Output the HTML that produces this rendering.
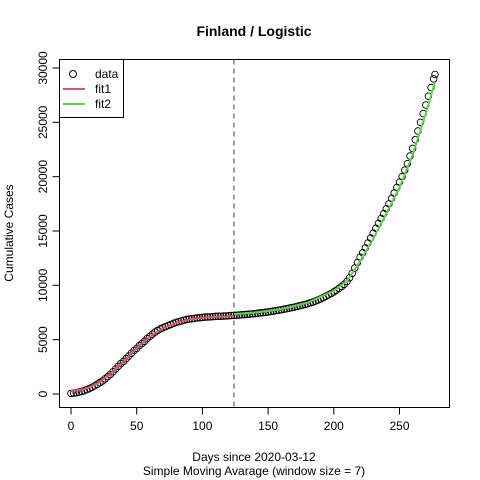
<!DOCTYPE html>
<html><head><meta charset="utf-8"><style>
body{margin:0;background:#fff}
svg{display:block;font-family:"Liberation Sans",Arial,sans-serif}
</style></head><body>
<svg id="chart" width="480" height="480">
<text x="254" y="36" text-anchor="middle" font-size="14" font-weight="bold">Finland / Logistic</text>
<text x="254" y="461" text-anchor="middle" font-size="12">Days since 2020-03-12</text>
<text x="254" y="475" text-anchor="middle" font-size="12">Simple Moving Avarage (window size = 7)</text>
<text transform="translate(13,233) rotate(-90)" text-anchor="middle" font-size="12">Cumulative Cases</text>
<rect x="59.5" y="59.5" width="390" height="348" fill="none" stroke="#000"/>
<g id="xaxis"></g>
<g id="yaxis"></g>
<g id="marks"></g>
<g>
<rect x="59.5" y="59.5" width="64" height="58" fill="#fff" stroke="#000"/>
<circle cx="73" cy="74" r="3.5" fill="none" stroke="#000"/>
<text x="95" y="78" font-size="12">data</text>
<line x1="63" x2="85" y1="89" y2="89" stroke="#DF536B" stroke-width="2"/>
<text x="95" y="93" font-size="12">fit1</text>
<line x1="63" x2="85" y1="104" y2="104" stroke="#61D04F" stroke-width="2"/>
<text x="95" y="108" font-size="12">fit2</text>
</g>
</svg>
<script>
const dataDays=[0,2,4,6,8,10,12,14,16,18,20,22,24,26,28,30,32,34,36,38,40,42,44,46,48,50,52,54,56,58,60,62,64,66,68,70,72,74,76,78,80,82,84,86,88,90,92,94,96,98,100,102,104,106,108,110,112,114,116,118,120,122,124,126,128,130,132,134,136,138,140,142,144,146,148,150,152,154,156,158,160,162,164,166,168,170,172,174,176,178,180,182,184,186,188,190,192,194,196,198,200,202,204,206,208,210,212,214,216,218,220,222,224,226,228,230,232,234,236,238,240,242,244,246,248,250,252,254,256,258,260,262,264,266,268,270,272,274,276,277];
const dataCases=[50,80,120,170,230,300,400,500,620,750,900,1050,1200,1400,1600,1800,2050,2300,2550,2800,3000,3250,3500,3750,4000,4200,4450,4650,4850,5100,5300,5500,5700,5850,6000,6100,6200,6300,6400,6500,6600,6650,6720,6800,6850,6900,6930,6960,7000,7020,7050,7070,7090,7100,7120,7140,7150,7160,7170,7180,7200,7220,7240,7250,7270,7290,7310,7330,7350,7370,7400,7430,7460,7490,7520,7550,7590,7630,7670,7710,7750,7800,7850,7900,7950,8000,8060,8120,8180,8240,8300,8380,8460,8550,8650,8750,8870,9000,9120,9250,9400,9550,9720,9900,10100,10350,10700,11100,11600,12100,12600,13000,13450,13900,14350,14800,15250,15700,16150,16600,17050,17500,18000,18500,19000,19500,20000,20600,21200,21900,22600,23400,24200,25000,25800,26600,27400,28200,29000,29400];
const fit1Days=[0,10,20,30,40,50,60,70,80,90,100,110,124];
const fit1Cases=[250,450,950,1850,3000,4250,5300,6050,6550,6850,7000,7100,7150];
const fit2Days=[124,140,160,180,200,210,220,230,240,250,260,270,277];
const fit2Cases=[7350,7500,7800,8400,9500,10400,12200,14300,16600,19000,22000,25800,28700];
const xTicks=[0,50,100,150,200,250];
const yTicks=[0,5000,10000,15000,20000,25000,30000];
const splitDay=124;

const NS="http://www.w3.org/2000/svg";
const X=d=>71+d*1.314;
const Y=v=>394-v*0.010867;
function mk(tag,attrs,parent){const e=document.createElementNS(NS,tag);for(const k in attrs)e.setAttribute(k,attrs[k]);parent.appendChild(e);return e;}
const xa=document.getElementById('xaxis'),ya=document.getElementById('yaxis'),mg=document.getElementById('marks');
mk('line',{x1:X(0),x2:X(250),y1:407.5,y2:407.5,stroke:'#000'},xa);
xTicks.forEach(t=>{
  const l=mk('line',{x1:X(t),x2:X(t),y1:407.5,y2:414.5,stroke:'#000'},xa);
  
  
  const tx=mk('text',{x:X(t),y:430,'text-anchor':'middle','font-size':12},xa);tx.textContent=t;
  
  
});
mk('line',{x1:59.5,x2:59.5,y1:Y(0),y2:Y(30000),stroke:'#000'},ya);
yTicks.forEach(t=>{
  const l=mk('line',{x1:52.5,x2:59.5,y1:Y(t),y2:Y(t),stroke:'#000'},ya);
  
  
  const tx=mk('text',{transform:`translate(47,${Y(t)}) rotate(-90)`,'text-anchor':'middle','font-size':12},ya);tx.textContent=t;
  
  
});
const vl=mk('line',{x1:X(splitDay),x2:X(splitDay),y1:59.5,y2:407.5,stroke:'#666','stroke-dasharray':'5,4','stroke-width':1.3},mg);


const pg=mk('g',{},mg);


dataDays.forEach((d,i)=>{
  const c=mk('circle',{cx:X(d),cy:Y(dataCases[i]),r:3.3,fill:'none',stroke:'#000','stroke-width':0.9},pg);
  
  
});
const p1=mk('polyline',{points:fit1Days.map((d,i)=>X(d)+','+Y(fit1Cases[i])).join(' '),fill:'none',stroke:'#DF536B','stroke-width':2},mg);


const p2=mk('polyline',{points:fit2Days.map((d,i)=>X(d)+','+Y(fit2Cases[i])).join(' '),fill:'none',stroke:'#61D04F','stroke-width':2},mg);


</script>
</body></html>
